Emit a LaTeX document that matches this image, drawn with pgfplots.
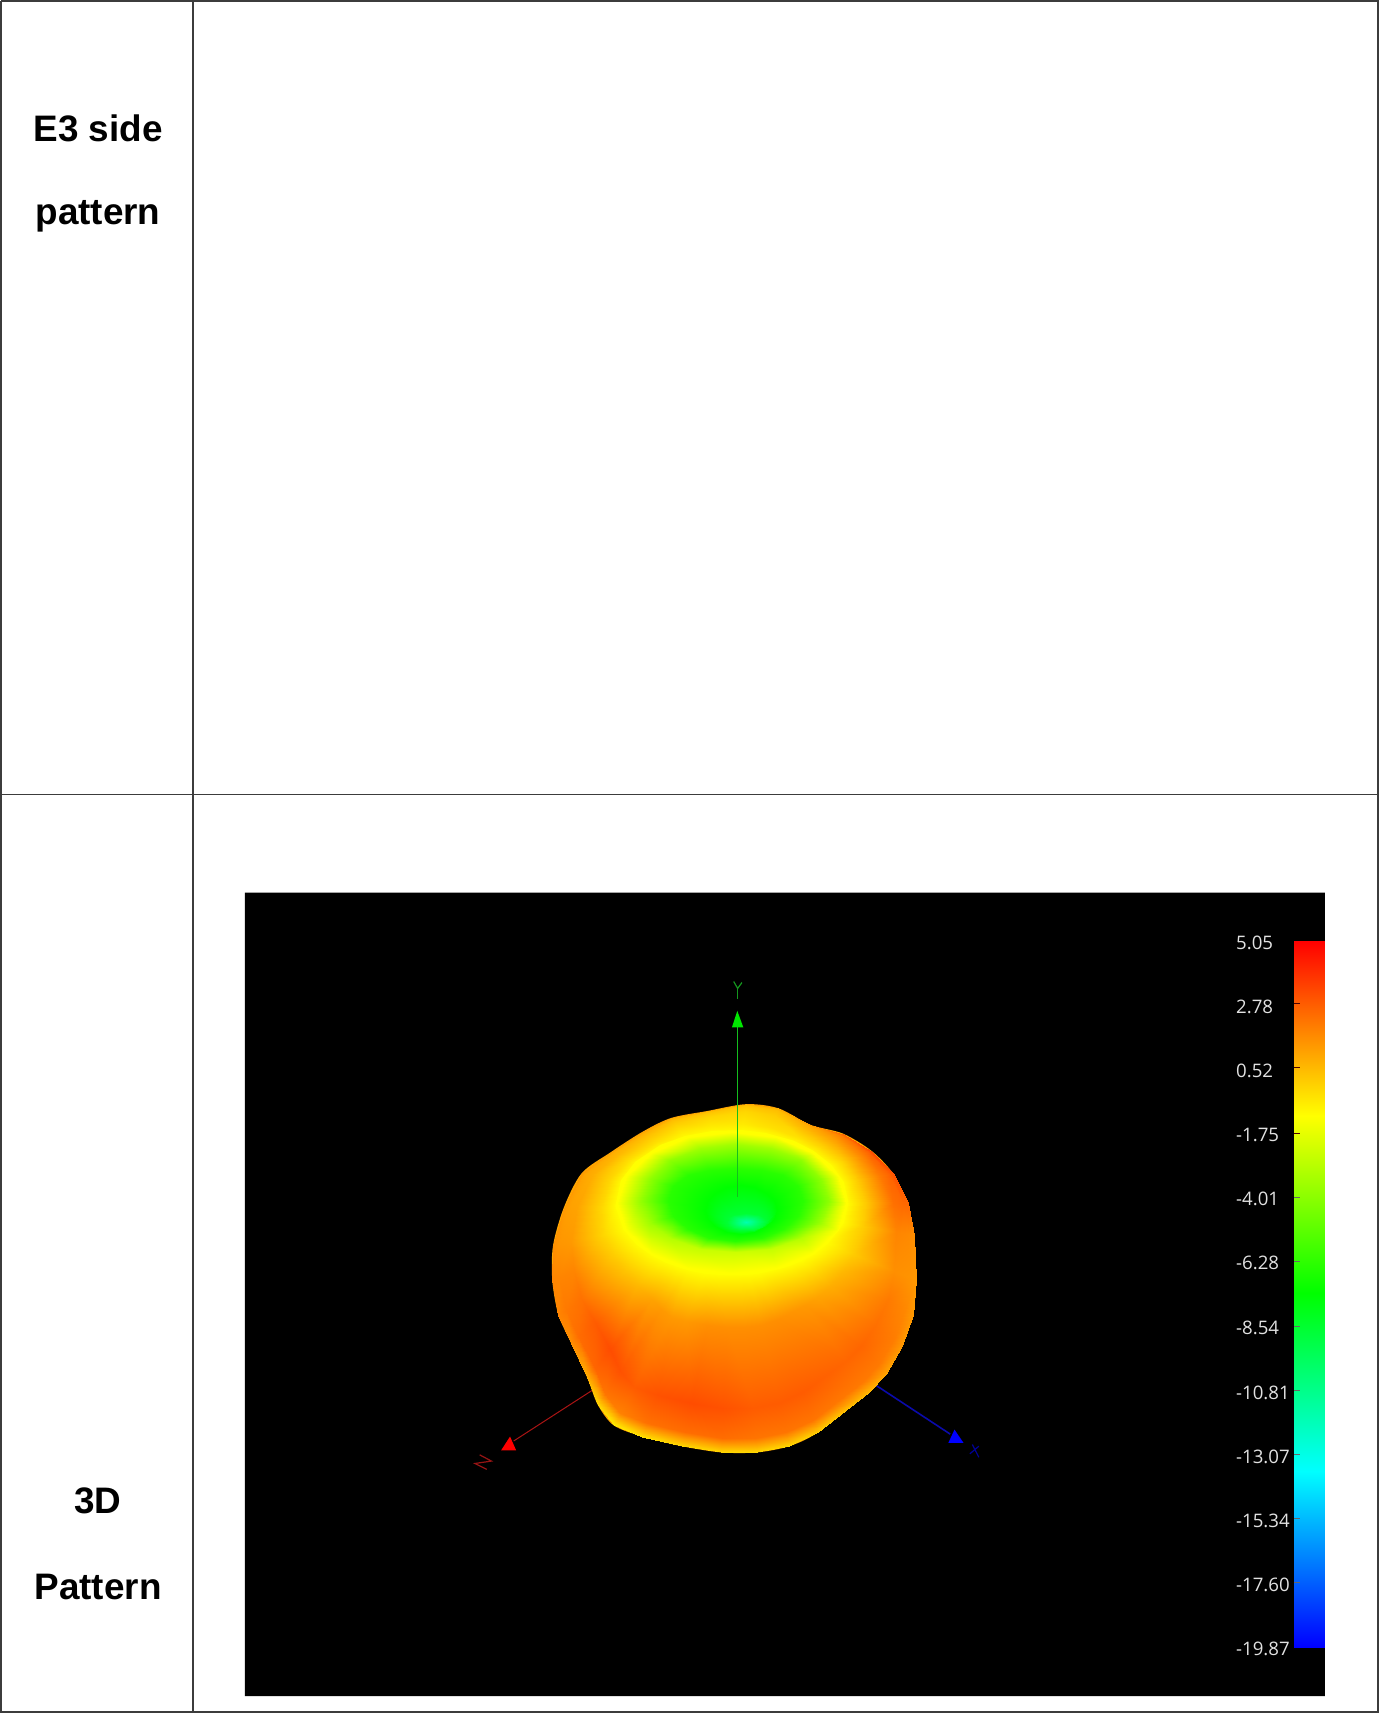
\documentclass[border=0pt]{standalone}
\usepackage{pgfplots}
\pgfplotsset{compat=1.18}
\usepackage{fontspec}
\setmainfont{Liberation Sans}
\newfontfamily\uifont{Open Sans}
\definecolor{rule}{RGB}{60,60,60}
\definecolor{lab}{RGB}{225,225,225}
\pgfplotsset{
  colormap={antenna}{rgb255=(0,0,255) rgb255=(0,255,255) rgb255=(0,255,0) rgb255=(255,255,0) rgb255=(255,0,0)},
  page/.style={scale only axis, width=689pt, height=856.5pt, hide axis, y dir=reverse,
    point meta min=-19.87, point meta max=5.05, colormap name=antenna, clip=false}
}
\begin{document}
\begin{tikzpicture}
% ---------- page axis, in pixels of the picture ----------
\begin{axis}[page, xmin=0, xmax=1378, ymin=0, ymax=1713]
\addplot[draw=none, fill=black, forget plot] coordinates {(246,894) (1324,894) (1324,1696) (246,1696) (246,894)};
% table rules
\addplot[rule, line width=0.85pt, forget plot] coordinates {(2.5,4) (1377,4) (1377,1712) (2.5,1712) (2.5,4)};
\addplot[rule, line width=0.85pt, forget plot] coordinates {(194,4) (194,1712)};
\addplot[rule, line width=0.85pt, forget plot] coordinates {(2.5,796) (1377,796)};
% colour bar
\addplot[surf, shader=interp, mesh/cols=2, point meta=explicit, forget plot] table[meta=m] {
x y m
1293 942 5.05
1323.5 942 5.05
1293 1005 2.78
1323.5 1005 2.78
1293 1069 0.52
1323.5 1069 0.52
1293 1133 -1.75
1323.5 1133 -1.75
1293 1198 -4.01
1323.5 1198 -4.01
1293 1262 -6.28
1323.5 1262 -6.28
1293 1326 -8.54
1323.5 1326 -8.54
1293 1391 -10.81
1323.5 1391 -10.81
1293 1455 -13.07
1323.5 1455 -13.07
1293 1519 -15.34
1323.5 1519 -15.34
1293 1584 -17.60
1323.5 1584 -17.60
1293 1647 -19.87
1323.5 1647 -19.87
};
% colour bar ticks
\addplot[black!70!red, line width=0.5pt, forget plot] coordinates {(1293,1005) (1299,1005)};
\addplot[black!70!red, line width=0.5pt, forget plot] coordinates {(1293,1069) (1299,1069)};
\addplot[black!70!red, line width=0.5pt, forget plot] coordinates {(1293,1134) (1299,1134)};
\addplot[black!60, line width=0.5pt, forget plot] coordinates {(1293,1198) (1299,1198)};
\addplot[black!60, line width=0.5pt, forget plot] coordinates {(1293,1262) (1299,1262)};
\addplot[black!60, line width=0.5pt, forget plot] coordinates {(1293,1327) (1299,1327)};
\addplot[black!60, line width=0.5pt, forget plot] coordinates {(1293,1391) (1299,1391)};
\addplot[black!60, line width=0.5pt, forget plot] coordinates {(1293,1455) (1299,1455)};
\addplot[black!60, line width=0.5pt, forget plot] coordinates {(1293,1519) (1299,1519)};
\addplot[black!60, line width=0.5pt, forget plot] coordinates {(1293,1583) (1299,1583)};
% left column
\node[anchor=base, font=\bfseries\fontsize{18.4}{18.4}\selectfont] at (axis cs:99.5,144) {E3 side};
\node[anchor=base, font=\bfseries\fontsize{18.4}{18.4}\selectfont] at (axis cs:99.5,227) {pattern};
\node[anchor=base, font=\bfseries\fontsize{18.4}{18.4}\selectfont] at (axis cs:99.5,1514) {3D};
\node[anchor=base, font=\bfseries\fontsize{18.4}{18.4}\selectfont] at (axis cs:99.5,1600) {Pattern};
% colour bar labels
\foreach \v/\y in {5.05/944,2.78/1008,0.52/1072,-1.75/1136,-4.01/1200,-6.28/1264,-8.54/1328,-10.81/1393,-13.07/1457,-15.34/1521,-17.60/1585,-19.87/1649}{
  \edef\temp{\noexpand\node[anchor=west, inner sep=0pt, text=lab, font=\noexpand\uifont\noexpand\fontsize{9.3}{9.3}\noexpand\selectfont] at (axis cs:1235,\y) {\v};}
  \temp
}
\end{axis}
% ---------- pattern axis, in crop units about (450,950) ----------
\begin{axis}[page, xmin=-1260, xmax=2598.4, ymin=-2755, ymax=2212.7]
% red and blue axes go behind the body
\addplot[draw={rgb,255:red,170;green,20;blue,20}, line width=0.5pt, forget plot] coordinates {(415,1268) (180,1425)};
\addplot[draw={rgb,255:red,10;green,10;blue,170}, line width=0.8pt, forget plot] coordinates {(1190,1262) (1400,1405)};
\addplot[draw=none, fill={rgb,255:red,255;green,0;blue,0}, forget plot] coordinates {(170,1412) (145,1452) (187,1452) (170,1412)};
\addplot[draw=none, fill={rgb,255:red,0;green,0;blue,255}, forget plot] coordinates {(1412,1392) (1395,1430) (1437,1430) (1412,1392)};
\addplot[draw={rgb,255:red,150;green,20;blue,20}, line width=0.6pt, forget plot] coordinates {(85,1465) (118,1483) (72,1490) (105,1507)};
\addplot[draw={rgb,255:red,0;green,0;blue,150}, line width=0.6pt, forget plot] coordinates {(1480,1440) (1455,1462)};
\addplot[draw={rgb,255:red,0;green,0;blue,150}, line width=0.6pt, forget plot] coordinates {(1462,1435) (1480,1472)};
% body silhouette
\addplot[smooth, draw=none, fill={rgb,255:red,255;green,165;blue,0}, forget plot] coordinates {
(1282,735) (1298,830) (1305,960) (1295,1060) (1265,1150) (1220,1230) (1170,1285) (1030,1400)
(950,1440) (860,1458) (760,1458) (650,1440) (540,1412) (460,1380) (415,1320) (385,1240)
(340,1140) (305,1060) (288,960) (290,860) (320,750) (370,650) (450,590) (540,530)
(620,490) (720,470) (830,450) (920,462) (1010,510) (1100,535) (1180,585) (1240,650) (1282,735)};
% body, outer shell: yellow ring, three inner rings, outline
\addplot[surf, shader=interp, mesh/cols=33, point meta=explicit, forget plot] table[meta=m] {
x y m
1110 735 -1.18
1097 792 -1.18
1054 850 -1.18
1016 880 -1.18
979 900 -1.18
946 914 -1.18
920 922 -1.18
862 935 -1.18
836 938 -1.18
810 940 -1.18
782 940 -1.18
750 938 -1.18
716 935 -1.18
690 930 -1.18
668 925 -1.18
644 917 -1.18
604 902 -1.18
569 883 -1.18
528 853 -1.18
492 810 -1.18
470 745 -1.18
485 673 -1.18
524 621 -1.18
593 573 -1.18
660 548 -1.18
737 533 -1.18
819 531 -1.18
883 539 -1.18
960 561 -1.18
1015 590 -1.18
1064 630 -1.18
1097 677 -1.18
1110 735 -1.18
1162 735 0.07
1157 803 0.07
1129 883 0.07
1100 934 0.56
1065 975 0.81
1028 1009 1.06
995 1031 1.31
912 1075 1.56
870 1089 1.56
825 1095 1.56
775 1095 1.56
720 1089 1.56
663 1078 1.31
621 1065 1.31
592 1044 1.31
566 1014 1.06
525 973 0.56
490 936 0.32
456 885 0.07
431 825 -0.18
425 747 -0.18
450 666 -0.18
502 612 -0.43
577 560 -0.43
648 531 -0.68
732 514 -0.68
822 507 -0.68
894 516 -0.43
975 546 -0.43
1040 574 -0.18
1099 617 -0.18
1140 669 0.07
1162 735 0.07
1239 735 2.31
1248 820 1.81
1242 932 1.56
1225 1015 2.06
1194 1087 2.31
1151 1151 2.56
1108 1194 2.56
988 1284 2.81
922 1314 2.81
848 1329 2.81
765 1329 3.06
675 1314 3.18
584 1293 3.06
517 1268 2.81
478 1221 3.06
450 1159 3.18
406 1081 2.81
371 1016 2.31
348 933 1.81
340 848 1.31
358 749 1.06
399 656 0.81
468 598 0.56
553 541 0.32
630 505 0.07
724 486 -0.18
827 470 -0.18
911 481 0.07
998 523 0.56
1079 549 1.31
1151 596 1.81
1204 657 2.06
1239 735 2.31
1268 735 2.5
1282 827 1.7
1285 951 1.45
1273 1046 1.75
1242 1130 2.0
1198 1205 2.1
1150 1256 2.1
1017 1363 2.2
941 1400 2.2
856 1417 2.2
762 1417 2.4
658 1400 2.4
554 1374 2.3
478 1344 1.9
435 1288 2.2
406 1214 2.6
361 1121 2.4
326 1046 2.1
307 951 1.81
306 856 1.4
332 750 1.15
379 652 1.0
456 592 0.8
544 533 0.7
623 495 0.4
721 475 0.2
829 456 0.2
917 468 0.4
1006 514 0.9
1093 539 1.9
1171 589 2.6
1229 652 2.6
1268 735 2.5
1282 735 2.56
1298 830 1.56
1305 960 1.31
1295 1060 1.31
1265 1150 1.31
1220 1230 1.06
1170 1285 0.56
1030 1400 0.07
950 1440 -0.18
860 1458 -0.18
760 1458 -0.18
650 1440 -0.18
540 1412 -0.43
460 1380 -0.68
415 1320 -0.18
385 1240 0.81
340 1140 1.56
305 1060 1.81
288 960 1.81
290 860 1.56
320 750 1.31
370 650 1.31
450 590 1.06
540 530 1.06
620 490 0.81
720 470 0.56
830 450 0.56
920 462 0.81
1010 510 1.31
1100 535 2.56
1180 585 3.31
1240 650 3.06
1282 735 2.56
};
% yellow ground inside the shell
\addplot[draw={rgb,255:red,255;green,255;blue,0}, line width=2pt, fill={rgb,255:red,255;green,255;blue,0}, forget plot] coordinates {
(1110,735) (1097,792) (1054,850) (1016,880) (979,900) (946,914) (920,922) (862,935) (836,938) (810,940)
(782,940) (750,938) (716,935) (690,930) (668,925) (644,917) (604,902) (569,883) (528,853) (492,810)
(470,745) (485,673) (524,621) (593,573) (660,548) (737,533) (819,531) (883,539) (960,561) (1015,590)
(1064,630) (1097,677) (1110,735)};
% body, inner hollow: centre spot, spot rim, green, green edge, yellow-green, yellow
\addplot[surf, shader=interp, mesh/cols=17, point meta=explicit, forget plot] table[meta=m] {
x y m
830 790 -11.65
830 790 -11.65
830 790 -11.65
830 790 -11.65
830 790 -11.65
830 790 -11.65
830 790 -11.65
830 790 -11.65
830 790 -11.65
830 790 -11.65
830 790 -11.65
830 790 -11.65
830 790 -11.65
830 790 -11.65
830 790 -11.65
830 790 -11.65
830 790 -11.65
885 790 -8.66
881 800 -8.66
869 808 -8.66
851 813 -8.66
830 815 -8.66
809 813 -8.66
791 808 -8.66
779 800 -8.66
775 790 -8.66
779 780 -8.66
791 772 -8.66
809 767 -8.66
830 765 -8.66
851 767 -8.66
869 772 -8.66
881 780 -8.66
885 790 -8.66
915 755 -7.41
907 782 -7.41
886 804 -7.41
853 820 -7.41
815 825 -7.41
777 820 -7.41
744 804 -7.41
723 782 -7.41
715 755 -7.41
723 728 -7.41
744 706 -7.41
777 690 -7.41
815 685 -7.41
853 690 -7.41
886 706 -7.41
907 728 -7.41
915 755 -7.41
990 730 -6.41
976 774 -6.41
934 811 -6.41
873 836 -6.41
800 845 -6.41
727 836 -6.41
666 811 -6.41
624 774 -6.41
610 730 -6.41
624 686 -6.41
666 655 -6.41
727 640 -6.41
800 635 -6.41
873 640 -6.41
934 655 -6.41
976 686 -6.41
990 730 -6.41
1060 730 -3.92
1040 793 -3.5
984 838 -3.0
900 868 -2.6
800 878 -2.43
700 868 -2.6
616 838 -3.0
560 793 -3.5
540 730 -3.92
560 667 -3.92
616 613 -3.92
700 578 -3.5
800 565 -3.5
900 578 -3.5
984 613 -3.92
1040 667 -3.92
1060 730 -3.92
1110 735 -1.18
1086 813 -1.18
1016 880 -1.18
913 924 -1.18
790 940 -1.18
667 924 -1.18
564 880 -1.18
494 813 -1.18
470 735 -1.18
494 657 -1.18
564 590 -1.18
667 546 -1.18
790 530 -1.18
913 546 -1.18
1016 590 -1.18
1086 657 -1.18
1110 735 -1.18
};
% green axis in front
\addplot[draw={rgb,255:red,20;green,190;blue,30}, line width=0.6pt, forget plot] coordinates {(805,225) (805,720)};
\addplot[draw=none, fill={rgb,255:red,0;green,230;blue,0}, forget plot] coordinates {(805,180) (790,228) (822,228) (805,180)};
\addplot[draw={rgb,255:red,20;green,150;blue,30}, line width=0.6pt, forget plot] coordinates {(795,95) (806,115) (818,98)};
\addplot[draw={rgb,255:red,20;green,150;blue,30}, line width=0.6pt, forget plot] coordinates {(806,115) (806,145)};
\end{axis}
\end{tikzpicture}
\end{document}
